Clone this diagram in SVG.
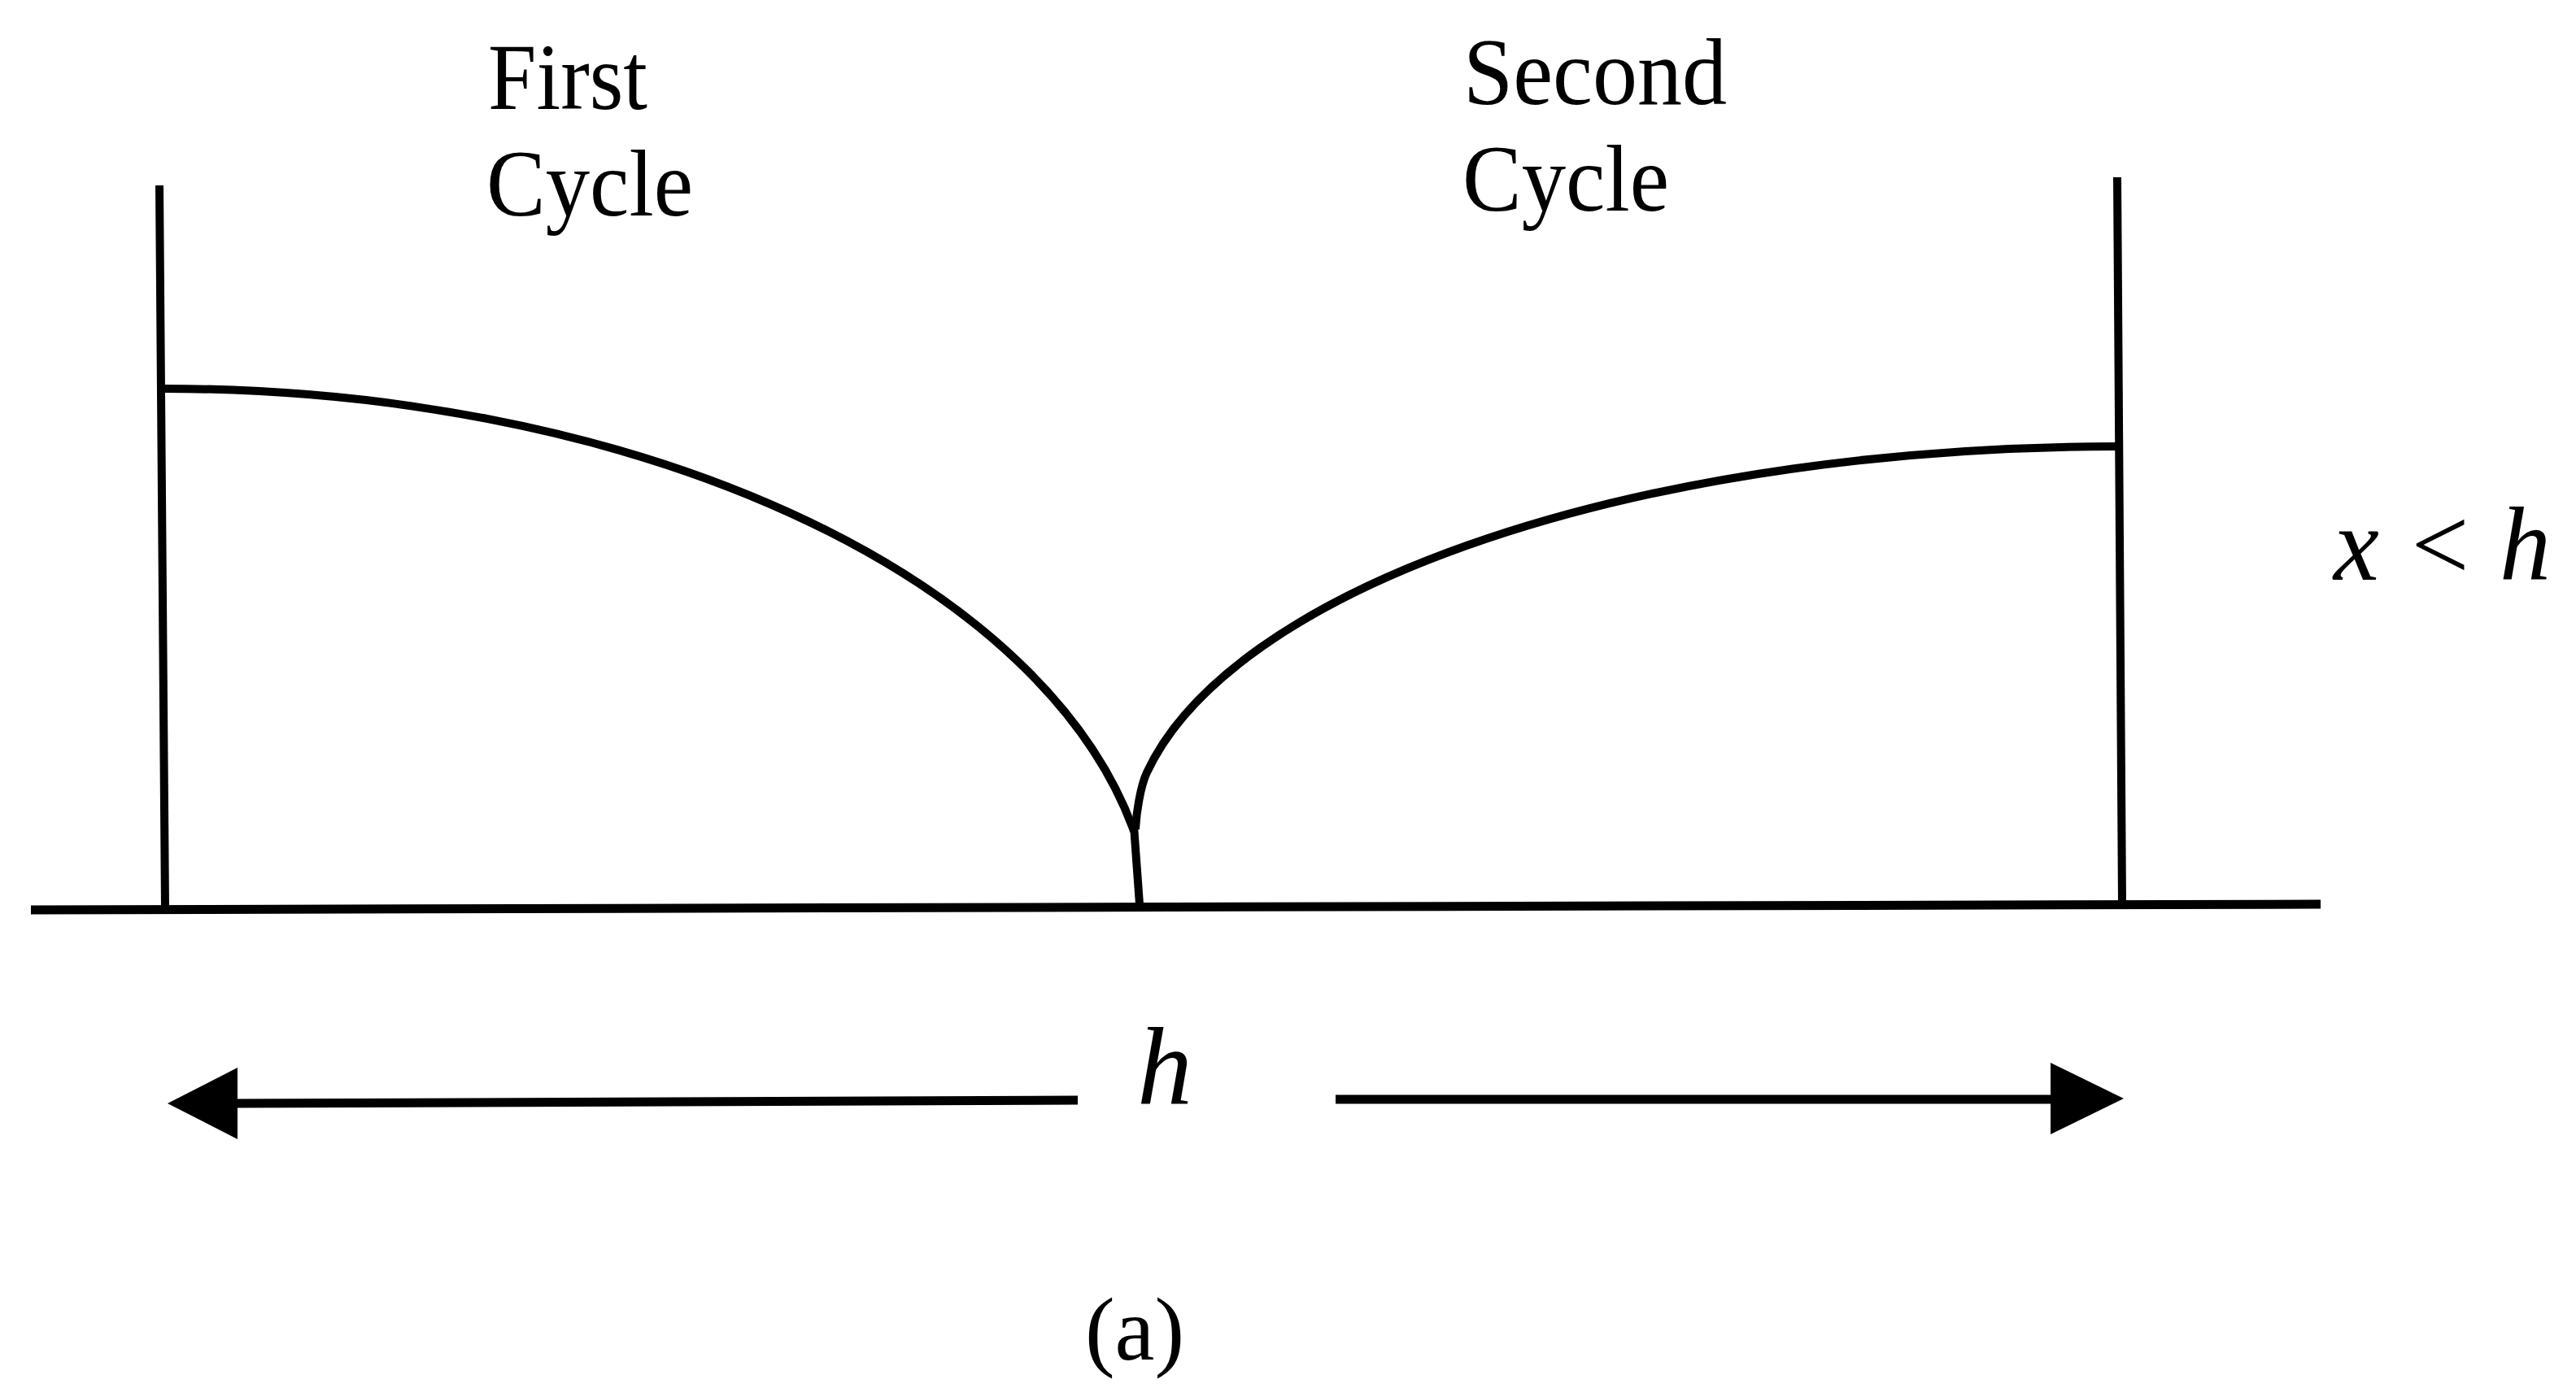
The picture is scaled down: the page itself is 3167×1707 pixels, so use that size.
<svg xmlns="http://www.w3.org/2000/svg" width="3167" height="1707" viewBox="0 0 3167 1707">
<style>
  .ln { fill: none; stroke: #000; stroke-linecap: butt; stroke-linejoin: round; }
  .crv { fill: none; stroke: #000; stroke-width: 10; stroke-linejoin: round; }
  .lbl { font-family: "Liberation Serif", "Times New Roman", serif; fill: #000; }
  .it { font-style: italic; }
  .head { fill: #000; stroke: none; }
</style>
<rect width="3167" height="1707" fill="#fff"/>
<g id="frame">
  <line class="ln" x1="38" y1="1119" x2="2853" y2="1112" stroke-width="11"/>
  <line class="ln" x1="196" y1="228" x2="203" y2="1118" stroke-width="10"/>
  <line class="ln" x1="2603" y1="218" x2="2609" y2="1112" stroke-width="10"/>
</g>
<g id="first-cycle-curve">
  <path class="crv" d="M 199 478 L 203 478 A 1215 678 0 0 1 1394 1022"/>
</g>
<g id="second-cycle-curve">
  <path class="crv" d="M 2606 549 L 2604 549 A 1215 492 0 0 0 1410 950 C 1402 967 1397 1000 1396 1020"/>
</g>
<g id="cusp-stem">
  <path class="crv" d="M 1394 1016 L 1401 1112"/>
</g>
<g id="connectors">
  <line class="ln" x1="1325" y1="1353" x2="285" y2="1357" stroke-width="11"/>
  <polygon class="head" points="206,1357 292,1313 292,1401"/>
  <line class="ln" x1="1642" y1="1352" x2="2528" y2="1352" stroke-width="11"/>
  <polygon class="head" points="2611,1351 2521,1307 2521,1395"/>
</g>
<g id="labels">
  <text class="lbl" x="600" y="134" font-size="116" textLength="196" lengthAdjust="spacingAndGlyphs">First</text>
  <text class="lbl" x="598" y="265" font-size="116" textLength="254" lengthAdjust="spacingAndGlyphs">Cycle</text>
  <text class="lbl" x="1799" y="128" font-size="116" textLength="324" lengthAdjust="spacingAndGlyphs">Second</text>
  <text class="lbl" x="1798" y="259" font-size="116" textLength="254" lengthAdjust="spacingAndGlyphs">Cycle</text>
  <text class="lbl it" x="2869" y="713" font-size="130" textLength="267" lengthAdjust="spacingAndGlyphs">x &lt; h</text>
  <text class="lbl it" x="1398" y="1357" font-size="136">h</text>
  <text class="lbl" x="1395" y="1672" font-size="110" text-anchor="middle">(a)</text>
</g>
</svg>
